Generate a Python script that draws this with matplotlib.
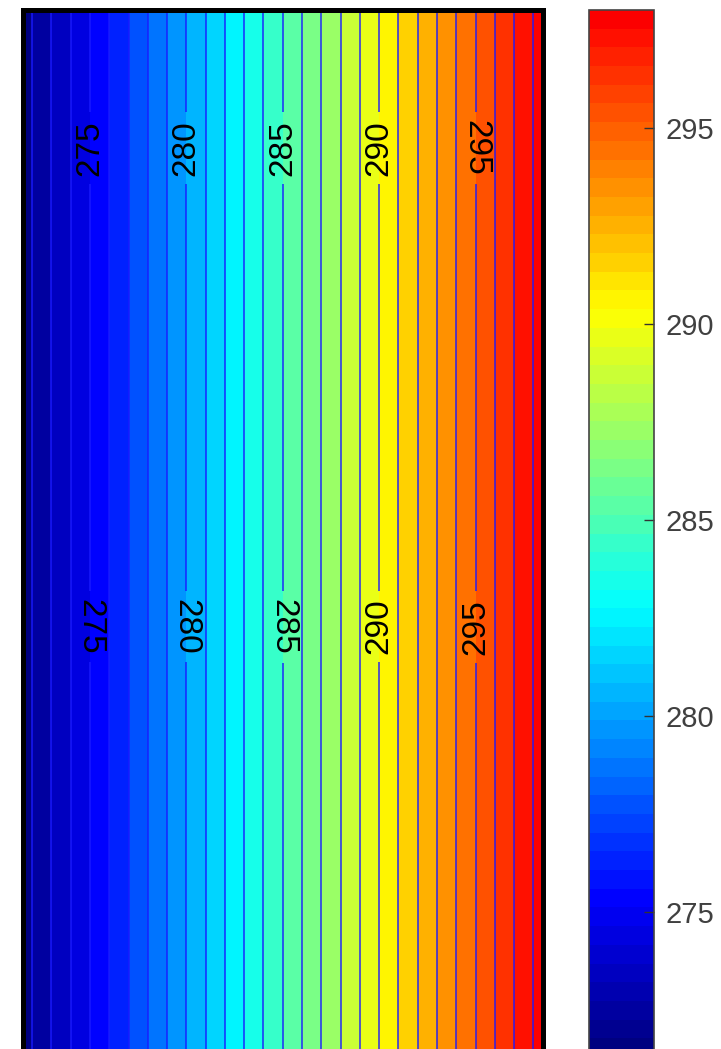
"""Vertical temperature bands with contour labels and a jet colorbar."""

import matplotlib

matplotlib.use("Agg")
import matplotlib.pyplot as plt
import numpy as np
from matplotlib import cm
from matplotlib.colors import LinearSegmentedColormap, ListedColormap, Normalize

plt.rcParams["font.family"] = ["Liberation Sans", "DejaVu Sans"]

# Field: temperature rises from west edge to east edge, constant in y
x_edge = [0.0, 1.0]
y_edge = [0.0, 1.0]
temp_edge = [271.5, 298.5]

# Contour levels and labels
fill_levels = list(range(271, 300))
label_levels = [275, 280, 285, 290, 295]
line_levels = [v for v in range(272, 299) if v not in label_levels]
label_rows = [0.868, 0.411]
label_rot = {
    0.868: [90, 90, 90, 90, 270],
    0.411: [270, 270, 270, 90, 90],
}

# Colour scale
clim = [271.3, 298.0]
cbar_ticks = [275, 280, 285, 290, 295]

# MATLAB-style jet (pure blue/cyan/yellow/red at 1/8, 3/8, 5/8, 7/8)
jet_ml = LinearSegmentedColormap("jet_ml", {
    "red": [(0, 0, 0), (0.375, 0, 0), (0.625, 1, 1), (0.875, 1, 1), (1, 0.5, 0.5)],
    "green": [(0, 0, 0), (0.125, 0, 0), (0.375, 1, 1), (0.625, 1, 1), (0.875, 0, 0), (1, 0, 0)],
    "blue": [(0, 0.5, 0.5), (0.125, 1, 1), (0.375, 1, 1), (0.625, 0, 0), (1, 0, 0)],
}, N=256)

W, H = 721, 1049
fig = plt.figure(figsize=(W / 100, H / 100), dpi=100)

ax_bottom = (H - 1057) / H
ax_height = (1057 - 10) / H
ax = fig.add_axes([22.5 / W, ax_bottom, (543 - 22.5) / W, ax_height])
cax = fig.add_axes([589 / W, ax_bottom, 65 / W, ax_height])

# jet truncated at its pure-red point, 56 steps like the reference bar
cmap = ListedColormap(jet_ml(np.linspace(0, 0.875, 56)))
norm = Normalize(vmin=clim[0], vmax=clim[1])

X, Y = np.meshgrid(x_edge, y_edge)
T = np.array([temp_edge, temp_edge])

line_kw = dict(colors="#1a1aff", linewidths=1.2, alpha=0.85)
ax.contourf(X, Y, T, levels=fill_levels, cmap=cmap, norm=norm)
ax.contour(X, Y, T, levels=line_levels, **line_kw)
cs = ax.contour(X, Y, T, levels=label_levels, **line_kw)

manual = []
for yy in label_rows:
    for lev in label_levels:
        manual.append((float(np.interp(lev, temp_edge, x_edge)), yy))
texts = ax.clabel(cs, manual=manual, inline=True, inline_spacing=8,
                  fontsize=24, colors="black", fmt="%d")

for t in texts:
    tx, ty = t.get_position()
    row = min(label_rows, key=lambda r: abs(r - ty))
    lev = int(float(t.get_text()))
    t.set_rotation(label_rot[row][label_levels.index(lev)])
    t.set_color("black")

ax.set_xlim(x_edge)
ax.set_ylim(y_edge)
ax.set_xticks([])
ax.set_yticks([])
for sp in ax.spines.values():
    sp.set_linewidth(3.6)
    sp.set_color("black")

cb = fig.colorbar(cm.ScalarMappable(norm=norm, cmap=cmap), cax=cax)
cb.set_ticks(cbar_ticks)
cb.outline.set_edgecolor("#444444")
cb.outline.set_linewidth(1.2)
cax.tick_params(direction="in", length=7, width=1.0, color="#333333",
                labelsize=21, labelcolor="#404040", pad=8)

fig.savefig("out.png", dpi=100)
